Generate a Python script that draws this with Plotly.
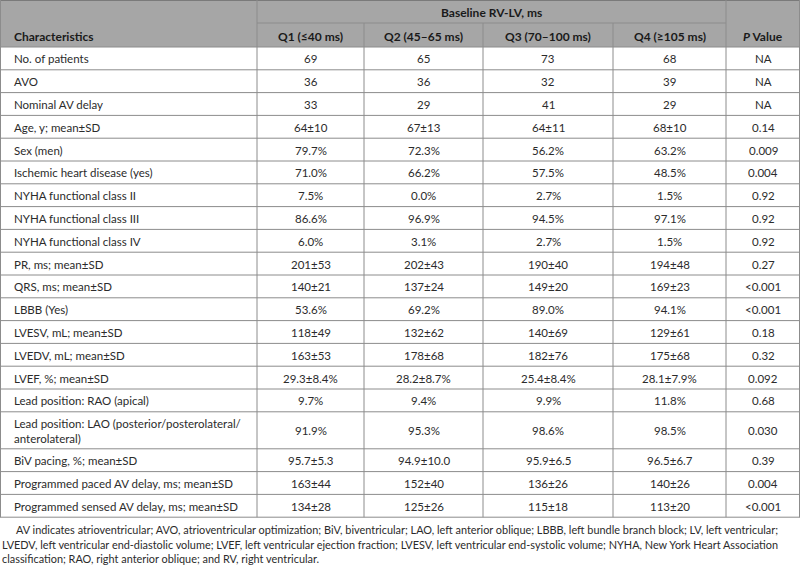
import plotly.graph_objects as go

characteristics = [
    "No. of patients", "AVO", "Nominal AV delay", "Age, y; mean±SD", "Sex (men)",
    "Ischemic heart disease (yes)", "NYHA functional class II", "NYHA functional class III",
    "NYHA functional class IV", "PR, ms; mean±SD", "QRS, ms; mean±SD", "LBBB (Yes)",
    "LVESV, mL; mean±SD", "LVEDV, mL; mean±SD", "LVEF, %; mean±SD",
    "Lead position: RAO (apical)",
    "Lead position: LAO (posterior/posterolateral/<br>anterolateral)",
    "BiV pacing, %; mean±SD", "Programmed paced AV delay, ms; mean±SD",
    "Programmed sensed AV delay, ms; mean±SD",
]
q1 = ["69", "36", "33", "64±10", "79.7%", "71.0%", "7.5%", "86.6%", "6.0%", "201±53", "140±21",
      "53.6%", "118±49", "163±53", "29.3±8.4%", "9.7%", "91.9%", "95.7±5.3", "163±44", "134±28"]
q2 = ["65", "36", "29", "67±13", "72.3%", "66.2%", "0.0%", "96.9%", "3.1%", "202±43", "137±24",
      "69.2%", "132±62", "178±68", "28.2±8.7%", "9.4%", "95.3%", "94.9±10.0", "152±40", "125±26"]
q3 = ["73", "32", "41", "64±11", "56.2%", "57.5%", "2.7%", "94.5%", "2.7%", "190±40", "149±20",
      "89.0%", "140±69", "182±76", "25.4±8.4%", "9.9%", "98.6%", "95.9±6.5", "136±26", "115±18"]
q4 = ["68", "39", "29", "68±10", "63.2%", "48.5%", "1.5%", "97.1%", "1.5%", "194±48", "169±23",
      "94.1%", "129±61", "175±68", "28.1±7.9%", "11.8%", "98.5%", "96.5±6.7", "140±26", "113±20"]
p_values = ["NA", "NA", "NA", "0.14", "0.009", "0.004", "0.92", "0.92", "0.92", "0.27", "<0.001",
            "<0.001", "0.18", "0.32", "0.092", "0.68", "0.030", "0.39", "0.004", "<0.001"]

group_header = "Baseline RV-LV, ms"
col_headers = ["Characteristics", "Q1 (≤40 ms)", "Q2 (45–65 ms)", "Q3 (70–100 ms)",
               "Q4 (≥105 ms)", "<i>P</i> Value"]

footnote = [
    "AV indicates atrioventricular; AVO, atrioventricular optimization; BiV, biventricular; "
    "LAO, left anterior oblique; LBBB, left bundle branch block; LV, left ventricular;",
    "LVEDV, left ventricular end-diastolic volume; LVEF, left ventricular ejection fraction; "
    "LVESV, left ventricular end-systolic volume; NYHA, New York Heart Association",
    "classification; RAO, right anterior oblique; and RV, right ventricular.",
]

W, H = 800, 569
FONT = "Lato"
TEXT = '#2b2b2b'
LINE = '#8c8c8c'
HEADER_BG = '#a6a6a6'

col_widths = [257, 107, 119, 130, 113, 74]
col_edges = [0]
for w in col_widths:
    col_edges.append(col_edges[-1] + w)

header_top, header_mid, header_bot = 0, 23, 47
row_h = 22.8
row_heights = [37 if '<br>' in c else row_h for c in characteristics]
row_edges = [header_bot]
for h in row_heights:
    row_edges.append(row_edges[-1] + h)

columns = [q1, q2, q3, q4, p_values]

fig = go.Figure()
shapes = []
annotations = []

# header background
shapes.append(dict(type='rect', x0=0, x1=col_edges[-1], y0=header_top, y1=header_bot,
                   fillcolor=HEADER_BG, line=dict(width=0), layer='below'))

# horizontal lines
shapes.append(dict(type='line', x0=0, x1=col_edges[-1], y0=header_top + 0.5, y1=header_top + 0.5,
                   line=dict(color='#7a7a7a', width=1)))
shapes.append(dict(type='line', x0=col_edges[1], x1=col_edges[5], y0=header_mid, y1=header_mid,
                   line=dict(color=LINE, width=1)))
for y in row_edges:
    shapes.append(dict(type='line', x0=0, x1=col_edges[-1], y0=y, y1=y,
                       line=dict(color=LINE, width=1)))

# vertical lines
bottom = row_edges[-1]
for i, x in enumerate(col_edges):
    xx = min(max(x, 0.5), col_edges[-1] - 0.5)
    top = header_top
    if i in (2, 3, 4):
        top = header_mid
    shapes.append(dict(type='line', x0=xx, x1=xx, y0=top, y1=bottom,
                       line=dict(color=LINE, width=1)))

# header texts
hdr_font = dict(family=FONT, size=12, color='#1a1a1a')
annotations.append(dict(x=(col_edges[1] + col_edges[5]) / 2, y=header_mid / 2 + 1,
                        text=f"<b>{group_header}</b>", showarrow=False, font=hdr_font,
                        xanchor='center', yanchor='middle'))
hy = (header_mid + header_bot) / 2 + 1
for i, label in enumerate(col_headers):
    if i == 0:
        x, xa = 12, 'left'
    else:
        x, xa = (col_edges[i] + col_edges[i + 1]) / 2, 'center'
    annotations.append(dict(x=x, y=hy, text=f"<b>{label}</b>", showarrow=False,
                            font=hdr_font, xanchor=xa, yanchor='middle'))

# body
body_font = dict(family=FONT, size=11.5, color=TEXT)
for r, label in enumerate(characteristics):
    yc = (row_edges[r] + row_edges[r + 1]) / 2 + 0.5
    annotations.append(dict(x=12, y=yc, text=label, showarrow=False, font=body_font,
                            xanchor='left', yanchor='middle', align='left'))
    for c, col in enumerate(columns):
        xc = (col_edges[c + 1] + col_edges[c + 2]) / 2
        annotations.append(dict(x=xc, y=yc, text=col[r], showarrow=False, font=body_font,
                                xanchor='center', yanchor='middle'))

# footnote
foot_font = dict(family=FONT, size=10.9, color=TEXT)
foot_y = [529, 544, 558]
for i, line in enumerate(footnote):
    annotations.append(dict(x=14 if i == 0 else 0, y=foot_y[i], text=line, showarrow=False,
                            font=foot_font, xanchor='left', yanchor='middle'))

fig.update_layout(
    width=W, height=H,
    margin=dict(l=0, r=0, t=0, b=0),
    paper_bgcolor='white', plot_bgcolor='white',
    xaxis=dict(range=[0, W], visible=False, fixedrange=True),
    yaxis=dict(range=[H, 0], visible=False, fixedrange=True),
    shapes=shapes, annotations=annotations,
    showlegend=False,
)

# page body has a default 8px margin; drop it so the table sits at the corner
fig.write_html("out.html", config={'displayModeBar': False},
               post_script="document.body.style.margin='0';")
